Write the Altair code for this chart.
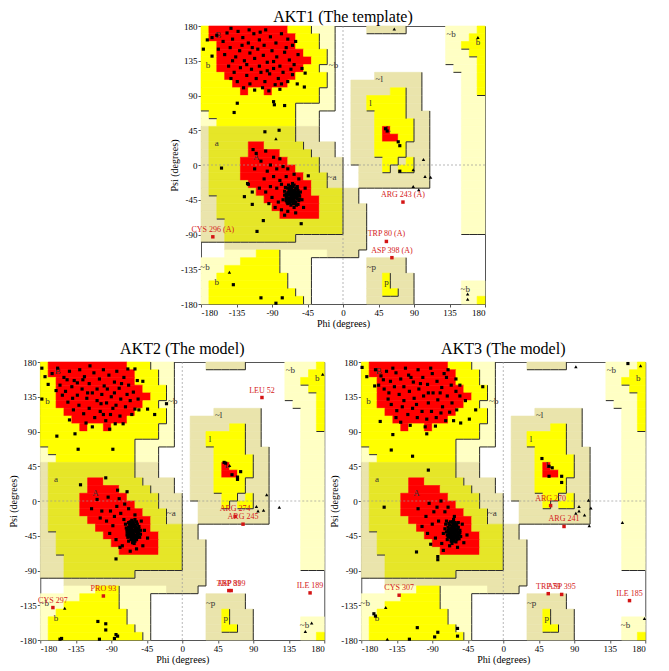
import altair as alt
import pandas as pd

# ---------------- Ramachandran region map (10-degree cells) ----------------
# each row: psi band from 180-10*r down to 170-10*r ; list of (start column, code)
# columns: phi from -180 (col 0) to 180 (col 36)
REGION_ROWS = [
    [(0, "Y"), (1, "R"), (11, "Y"), (14, "P"), (17, "."), (21, "T"), (26, "."), (31, "P"), (35, "Y")],
    [(0, "Y"), (1, "R"), (12, "Y"), (15, "P"), (17, "."), (31, "P"), (34, "Y")],
    [(0, "Y"), (2, "R"), (12, "Y"), (15, "P"), (17, "."), (31, "P"), (33, "Y")],
    [(0, "Y"), (2, "R"), (13, "Y"), (16, "P"), (17, "."), (31, "P"), (34, "Y")],
    [(0, "Y"), (2, "R"), (14, "Y"), (16, "P"), (17, "."), (31, "P"), (35, "Y")],
    [(0, "Y"), (2, "R"), (13, "Y"), (15, "P"), (17, "."), (32, "P"), (35, "Y")],
    [(0, "Y"), (3, "R"), (12, "Y"), (16, "P"), (17, "."), (22, "T"), (28, "."), (33, "P"), (35, "Y")],
    [(0, "Y"), (4, "R"), (11, "Y"), (16, "P"), (17, "."), (19, "T"), (28, "."), (33, "P"), (35, "Y")],
    [(0, "Y"), (5, "R"), (6, "Y"), (8, "R"), (9, "Y"), (15, "P"), (17, "."), (19, "T"), (24, "Y"), (26, "T"), (28, "."), (33, "P"), (35, "Y")],
    [(0, "Y"), (15, "P"), (17, "."), (19, "T"), (21, "Y"), (26, "T"), (28, "."), (33, "P")],
    [(0, "Y"), (12, "P"), (17, "."), (19, "T"), (21, "Y"), (26, "T"), (28, "."), (33, "P")],
    [(0, "P"), (1, "Y"), (12, "P"), (15, "."), (19, "T"), (22, "Y"), (26, "T"), (29, "."), (33, "P")],
    [(0, "P"), (2, "Y"), (12, "P"), (15, "."), (19, "T"), (22, "Y"), (27, "T"), (29, "."), (33, "P")],
    [(0, "T"), (1, "O"), (12, "T"), (15, "."), (19, "T"), (22, "Y"), (23, "R"), (24, "Y"), (27, "T"), (29, "."), (33, "P")],
    [(0, "T"), (1, "O"), (12, "T"), (15, "."), (19, "T"), (22, "Y"), (23, "R"), (25, "Y"), (27, "T"), (29, "."), (33, "P")],
    [(0, "T"), (1, "O"), (6, "R"), (8, "O"), (13, "T"), (17, "."), (19, "T"), (22, "Y"), (26, "T"), (29, "."), (33, "P")],
    [(0, "T"), (1, "O"), (6, "R"), (10, "O"), (14, "T"), (17, "."), (19, "T"), (22, "Y"), (26, "T"), (29, "."), (33, "P")],
    [(0, "T"), (1, "O"), (5, "R"), (11, "O"), (15, "T"), (18, "."), (19, "T"), (23, "Y"), (25, "T"), (26, "Y"), (27, "T"), (29, "."), (33, "P")],
    [(0, "T"), (1, "O"), (5, "R"), (12, "O"), (15, "T"), (18, "."), (20, "T"), (23, "Y"), (24, "T"), (25, "Y"), (27, "T"), (29, "."), (33, "P")],
    [(0, "T"), (1, "O"), (5, "R"), (13, "O"), (16, "T"), (18, "."), (20, "T"), (29, "."), (33, "P")],
    [(0, "T"), (1, "O"), (6, "R"), (14, "O"), (16, "T"), (18, "."), (20, "T"), (29, "."), (33, "P")],
    [(0, "T"), (1, "O"), (7, "R"), (14, "O"), (18, "T"), (20, "."), (33, "P")],
    [(0, "T"), (2, "O"), (8, "R"), (15, "O"), (18, "T"), (20, "."), (33, "P")],
    [(0, "T"), (2, "O"), (9, "R"), (15, "O"), (18, "T"), (21, "."), (33, "P")],
    [(0, "T"), (2, "O"), (10, "R"), (15, "O"), (18, "T"), (21, "."), (33, "P")],
    [(0, "T"), (3, "O"), (18, "T"), (21, "."), (33, "P")],
    [(0, "T"), (3, "O"), (18, "T"), (21, "."), (33, "P")],
    [(0, "T"), (3, "O"), (12, "T"), (21, ".")],
    [(0, "."), (3, "T"), (21, ".")],
    [(0, "."), (3, "P"), (7, "Y"), (10, "P"), (16, "T"), (20, ".")],
    [(0, "P"), (5, "Y"), (10, "P"), (14, "."), (21, "T"), (26, ".")],
    [(0, "P"), (3, "Y"), (10, "P"), (14, "."), (21, "T"), (26, ".")],
    [(0, "P"), (2, "Y"), (11, "P"), (14, "."), (21, "T"), (23, "Y"), (24, "T"), (27, ".")],
    [(0, "P"), (1, "Y"), (11, "P"), (14, "."), (21, "T"), (23, "Y"), (24, "T"), (27, "."), (33, "P")],
    [(0, "P"), (1, "Y"), (12, "P"), (14, "."), (21, "T"), (23, "Y"), (25, "T"), (27, "."), (33, "P")],
    [(0, "P"), (1, "Y"), (13, "P"), (14, "."), (21, "T"), (27, "."), (33, "P"), (35, "Y")],
]
REGION_CODES = ["R", "Y", "O", "P", "T"]
REGION_COLORS = ["#FF0000", "#FFFF00", "#E6E628", "#FFFFC4", "#EAE4AC"]
LEVEL = {".": 0, "P": 1, "T": 1, "Y": 2, "O": 2, "R": 3}

REGION_LABELS = ["B", "b", "A", "a", "~b", "~l", "l", "L", "~b", "b", "~a", "~p", "p", "~b", "~b", "b"]
REGION_LABEL_PHI = [-158, -171, -110, -160, -12, 46, 35, 57, 137, 171, -14, 36, 55, 155, -175, -160]
REGION_LABEL_PSI = [168, 130, 10, 29, 130, 111, 80, 46, 169, 159, -15, -132, -152, -161, -132, -151]

# ---------------- AKT1 (template) ----------------
AKT1_SQUARES = [
    (-160, 168), (-152, 160), (-147, 171), (-140, 163), (-133, 173), (-127, 165), (-120, 158), (-113, 170),
    (-106, 162), (-98, 175), (-92, 166), (-85, 158), (-78, 170), (-70, 163), (-64, 155), (-158, 150),
    (-150, 143), (-143, 152), (-136, 140), (-131, 148), (-125, 135), (-118, 145), (-112, 138), (-108, 150),
    (-101, 142), (-96, 133), (-90, 148), (-84, 140), (-80, 128), (-74, 146), (-68, 136), (-62, 130),
    (-57, 143), (-52, 125), (-145, 128), (-138, 120), (-130, 126), (-122, 116), (-116, 124), (-110, 112),
    (-104, 120), (-99, 108), (-93, 118), (-88, 125), (-82, 112), (-76, 120), (-70, 108), (-64, 117),
    (-58, 105), (-134, 108), (-126, 100), (-118, 105), (-112, 97), (-102, 100), (-94, 96), (-86, 104),
    (-80, 98), (-140, 135), (-128, 155), (-115, 152), (-100, 155), (-88, 134), (-72, 152), (-66, 124),
    (-106, 128), (-96, 122), (-122, 130), (-142, 112), (-78, 105), (-60, 160),
    (-177, 150), (-172, 162), (-166, 165), (-166, 141), (-142, 177), (-119, 175), (-105, 172),
    (-134, 80), (-138, 68), (-88, 82), (-87, 78), (-74, 77), (-49, 101), (-48, 119),
    (-99, 43), (-81, 45), (-114, 20),
    (-66, -40), (-62, -44), (-70, -36), (-58, -38), (-64, -33), (-68, -46), (-60, -30), (-72, -42),
    (-56, -46), (-63, -50), (-67, -28), (-59, -42), (-74, -34), (-61, -37), (-65, -47), (-69, -39),
    (-57, -33), (-71, -48), (-62, -26), (-55, -40), (-66, -52), (-73, -29), (-60, -48), (-64, -42),
    (-68, -32), (-58, -28), (-70, -44), (-63, -36), (-67, -35), (-61, -41), (-65, -38), (-59, -35),
    (-72, -38), (-62, -55), (-54, -35), (-76, -45), (-69, -26), (-57, -51), (-64, -24), (-66, -44),
    (-63, -39), (-66, -36), (-60, -41), (-68, -43), (-62, -47), (-58, -44), (-70, -30), (-64, -28),
    (-56, -37), (-72, -46), (-59, -52), (-67, -49), (-61, -33), (-65, -31), (-69, -35), (-57, -40),
    (-63, -43), (-71, -41), (-60, -37), (-66, -47), (-74, -39), (-62, -35), (-58, -31), (-68, -38),
    (-64, -45), (-55, -44), (-70, -50), (-61, -50), (-67, -32), (-65, -42),
    (-110, 15), (-98, 18), (-88, 10), (-104, 5), (-92, 0), (-80, 8), (-96, -8), (-84, -5), (-76, -2),
    (-112, -5), (-100, -18), (-88, -15), (-80, -20), (-72, -15), (-92, -28), (-84, -30), (-78, -25),
    (-98, -35), (-90, -42), (-82, -48), (-86, -55), (-78, -58), (-70, -60), (-60, -62), (-50, -55),
    (-52, -45), (-48, -30), (-56, -18), (-62, -12), (-70, -5), (-120, -25), (-115, -35), (-106, -30),
    (-94, -50), (-74, -65),
    (-154, -4), (-125, -41), (-115, -51), (-101, -72), (-109, -86), (-53, -76), (-44, -14), (-121, -24),
    (-139, -155), (-104, -172), (-85, -179), (-77, -172),
    (54, 47), (56, 44), (70, 30), (72, 25), (72, -8),
]
AKT1_TRIANGLES = [(65, 176), (171, 165), (102, 7), (89, -6), (104, -15), (111, -16), (89, -28), (96, -32),
                  (158, -167), (158, -174), (-144, -139), (-85, 34)]
AKT1_OUT_NAME = ["ARG 243 (A)", "TRP 80 (A)", "ASP 398 (A)", "CYS 296 (A)"]
AKT1_OUT_PHI = [76, 55, 62, -165]
AKT1_OUT_PSI = [-48, -99, -120, -93]

# ---------------- AKT2 (model) ----------------
AKT2_SQUARES = [
    (-165, 165), (-158, 172), (-150, 160), (-143, 168), (-137, 156), (-130, 170), (-124, 161), (-118, 152),
    (-112, 166), (-105, 158), (-99, 149), (-93, 163), (-86, 154), (-80, 146), (-74, 160), (-68, 150),
    (-62, 141), (-57, 156), (-155, 150), (-148, 142), (-140, 148), (-133, 137), (-127, 145), (-121, 133),
    (-114, 140), (-108, 130), (-102, 138), (-96, 127), (-90, 135), (-84, 124), (-78, 132), (-72, 122),
    (-66, 130), (-60, 119), (-145, 128), (-138, 118), (-131, 124), (-125, 113), (-118, 120), (-111, 108),
    (-104, 116), (-97, 104), (-91, 112), (-85, 100), (-79, 110), (-122, 101), (-114, 96), (-103, 126),
    (-95, 145), (-88, 120), (-133, 153), (-146, 157), (-117, 175), (-100, 170), (-83, 168), (-69, 171),
    (-152, 137), (-70, 138), (-64, 112), (-56, 132), (-108, 145), (-126, 157), (-139, 133), (-92, 93),
    (-75, 100), (-160, 143), (-100, 112), (-120, 140), (-86, 140), (-77, 152),
    (-178, 172), (-174, 161), (-178, 132), (-170, 151), (-60, 171), (-50, 155), (-55, 118), (-44, 119),
    (-35, 112), (-20, 126), (-159, 84), (-136, 87), (-132, 67), (-88, 67), (-143, 105),
    (-129, 21), (-97, 30),
    (-91, -13), (-83, -7), (-73, -4), (-68, -10), (-86, -20), (-78, -16), (-96, -26), (-88, -32),
    (-108, 2), (-94, 5), (-80, 3), (-115, -10), (-104, -22), (-74, -24), (-60, -18), (-52, -26),
    (-48, -38), (-44, -48), (-50, -58), (-58, -62), (-66, -65), (-76, -58), (-84, -50), (-92, -42),
    (-70, 12), (-82, 14),
    (-64, -40), (-60, -36), (-67, -44), (-57, -42), (-62, -30), (-66, -34), (-70, -40), (-59, -48),
    (-55, -33), (-63, -46), (-68, -28), (-61, -39), (-58, -27), (-65, -50), (-71, -35), (-56, -45),
    (-62, -43), (-60, -52), (-53, -38), (-67, -38), (-64, -25), (-69, -47), (-58, -35), (-63, -33),
    (-66, -42), (-61, -46), (-72, -30), (-54, -47), (-60, -24), (-65, -37), (-59, -40), (-68, -52),
    (-57, -30), (-62, -49), (-70, -44), (-55, -42), (-64, -31), (-61, -55), (-66, -27), (-58, -45),
    (-62, -38), (-59, -44), (-64, -36), (-57, -39), (-66, -46), (-60, -31), (-63, -41), (-68, -34),
    (-55, -36), (-61, -48), (-65, -29), (-58, -50), (-67, -41), (-62, -27), (-70, -37), (-56, -40),
    (-64, -49), (-60, -45), (-66, -32), (-59, -34), (-63, -54), (-53, -43), (-69, -42), (-61, -33),
    (-57, -47), (-65, -44), (-62, -52), (-67, -30), (-58, -38), (-64, -43),
    (-102, -13), (-84, -75), (-79, -60),
    (-107, -156), (-97, -159), (-97, -167), (-105, -179), (-86, -178), (-84, -173), (-82, -175),
    (-155, -179), (-153, -178),
    (53, 50), (55, 49), (63, 34), (70, 31), (70, 28), (74, 38),
]
AKT2_TRIANGLES = [(-149, -139), (178, 164), (60, 46), (107, 8), (94, -7), (96, -13), (103, -12),
                  (123, -8), (164, -158), (156, -169)]
AKT2_OUT_NAME = ["LEU 52", "ARG 274", "ARG 245", "TRP 81", "ASP 399", "ILE 189", "PRO 93", "CYS 297"]
AKT2_OUT_PHI = [101, 67, 77, 59, 62, 162, -100, -164]
AKT2_OUT_PSI = [134, -20, -30, -116, -116, -119, -123, -138]

# ---------------- AKT3 (model) ----------------
AKT3_SQUARES = [
    (-162, 170), (-155, 162), (-148, 168), (-143, 155), (-136, 166), (-130, 158), (-126, 148), (-120, 163),
    (-114, 154), (-108, 170), (-102, 160), (-96, 151), (-90, 165), (-84, 155), (-78, 147), (-72, 160),
    (-66, 150), (-60, 142), (-55, 136), (-158, 150), (-151, 145), (-145, 140), (-138, 148), (-132, 138),
    (-126, 130), (-119, 142), (-113, 133), (-107, 145), (-101, 136), (-95, 127), (-89, 140), (-83, 131),
    (-77, 122), (-71, 136), (-65, 127), (-59, 118), (-48, 130), (-142, 125), (-135, 117), (-128, 122),
    (-121, 112), (-115, 120), (-109, 108), (-103, 116), (-97, 106), (-91, 116), (-85, 108), (-79, 114),
    (-73, 104), (-130, 102), (-118, 98), (-110, 125), (-99, 96), (-86, 97), (-152, 157), (-140, 172),
    (-124, 172), (-92, 172), (-70, 170), (-60, 158), (-146, 132), (-105, 152), (-117, 160), (-80, 140),
    (-95, 140), (-68, 115), (-63, 104), (-136, 108), (-55, 150), (-75, 165),
    (-179, 173), (-173, 161), (-163, 149), (-156, 103), (-140, 86), (-142, 66), (-115, 58), (-95, 40),
    (-97, 87), (-54, 101), (-43, 106), (-35, 118), (-26, 148),
    (-94, -3), (-84, -8), (-79, 0), (-88, -14), (-98, -20), (-74, -14), (-90, -30), (-82, -26),
    (-103, -33), (-96, -42), (-86, -48), (-78, -55), (-68, -58), (-58, -60), (-50, -54), (-46, -44),
    (-52, -30), (-62, -20), (-70, -8), (-108, -10), (-76, -64), (-92, -56),
    (-66, -38), (-62, -42), (-70, -34), (-58, -36), (-64, -30), (-68, -46), (-60, -48), (-72, -40),
    (-56, -44), (-63, -52), (-67, -27), (-59, -32), (-74, -36), (-61, -39), (-65, -45), (-69, -42),
    (-57, -28), (-71, -50), (-63, -24), (-55, -38), (-66, -50), (-73, -30), (-60, -44), (-64, -35),
    (-68, -31), (-58, -40), (-70, -46), (-62, -33), (-67, -41), (-61, -28), (-65, -55), (-59, -50),
    (-72, -26), (-54, -46), (-76, -42), (-63, -46),
    (-64, -40), (-61, -36), (-66, -43), (-59, -38), (-68, -36), (-62, -45), (-65, -33), (-57, -42),
    (-70, -38), (-63, -49), (-60, -30), (-67, -47), (-58, -46), (-64, -27), (-71, -44), (-55, -41),
    (-62, -38), (-66, -35), (-60, -53), (-69, -29), (-63, -41), (-57, -34), (-65, -48), (-61, -43),
    (-68, -40), (-59, -44), (-62, -31), (-66, -52), (-56, -49), (-64, -37),
    (-151, -8), (-110, -66), (-83, -72), (-83, -76),
    (-164, -146), (-162, -149), (-119, -179), (-109, -164), (-87, -176), (-83, -170), (-58, -165), (-58, -175),
    (49, 55), (58, 45), (62, 43), (58, 32), (74, 32), (74, 24), (158, 178),
]
AKT3_TRIANGLES = [(-149, -138), (-147, -179), (92, 174), (174, 175), (96, -7), (92, -16), (96, -13),
                  (103, -18), (108, 1), (111, -9), (109, -32), (151, -28), (179, -152)]
AKT3_OUT_NAME = ["CYS 307", "ARG 270", "ARG 241", "TRP 79", "ASP 395", "ILE 185"]
AKT3_OUT_PHI = [-132, 60, 77, 57, 74, 160]
AKT3_OUT_PSI = [-122, -6, -33, -120, -121, -129]

TICKS = [-180, -135, -90, -45, 0, 45, 90, 135, 180]
FONT = "Liberation Serif"
W, H = 284, 278


def expand(row):
    cells = ["."] * 36
    for i, (s, code) in enumerate(row):
        e = row[i + 1][0] if i + 1 < len(row) else 36
        for c in range(s, e):
            cells[c] = code
    return cells


GRID = [expand(r) for r in REGION_ROWS]

rect_records = []
for r, cells in enumerate(GRID):
    c = 0
    while c < 36:
        code = cells[c]
        s = c
        while c < 36 and cells[c] == code:
            c += 1
        if code != ".":
            rect_records.append({"phi0": -180 + 10 * s, "phi1": -180 + 10 * c,
                                 "psi0": 170 - 10 * r, "psi1": 180 - 10 * r, "code": code})
rect_df = pd.DataFrame(rect_records)


def drops(a, b):
    la, lb = LEVEL[a], LEVEL[b]
    if la == 0 or lb >= la:
        return False
    return not (la == 3 and lb == 2)


edge_records = []
for r in range(36):
    for c in range(36):
        here = GRID[r][c]
        if c < 35 and drops(here, GRID[r][c + 1]):
            xv = -170 + 10 * c
            edge_records.append({"ea": xv, "eb": xv, "ec": 180 - 10 * r, "ed": 170 - 10 * r})
        if r < 35 and drops(here, GRID[r + 1][c]):
            yv = 170 - 10 * r
            edge_records.append({"ea": -180 + 10 * c, "eb": -170 + 10 * c, "ec": yv, "ed": yv})
edge_df = pd.DataFrame(edge_records)

label_df = pd.DataFrame({"phi": REGION_LABEL_PHI, "psi": REGION_LABEL_PSI, "lab": REGION_LABELS})


def X(field):
    return alt.X(field, type="quantitative",
                 scale=alt.Scale(domain=[-180, 180], nice=False, zero=False),
                 axis=alt.Axis(values=TICKS, title="Phi (degrees)", labelExpr="'' + datum.value"))


def Y(field):
    return alt.Y(field, type="quantitative",
                 scale=alt.Scale(domain=[-180, 180], nice=False, zero=False),
                 axis=alt.Axis(values=TICKS, title="Psi (degrees)", labelExpr="'' + datum.value"))


def panel(title, squares, triangles, out_name, out_phi, out_psi, title_offset):
    sq_df = pd.DataFrame(squares, columns=["phi", "psi"])
    tr_df = pd.DataFrame(triangles, columns=["phi", "psi"])
    out_df = pd.DataFrame({"phi": out_phi, "psi": out_psi, "name": out_name})
    color_scale = alt.Scale(domain=REGION_CODES, range=REGION_COLORS)

    rects = alt.Chart(rect_df).mark_rect(strokeWidth=0.6).encode(
        x=X("phi0"), x2="phi1", y=Y("psi0"), y2="psi1",
        color=alt.Color("code:N", scale=color_scale, legend=None),
        stroke=alt.Stroke("code:N", scale=color_scale, legend=None),
    )
    edges = alt.Chart(edge_df).mark_rule(color="#2a2a2a", strokeWidth=1).encode(
        x=X("ea"), x2="eb", y=Y("ec"), y2="ed")
    zero_df = pd.DataFrame({"v": [0]})
    vline = alt.Chart(zero_df).mark_rule(color="#9a9a9a", strokeWidth=0.7, strokeDash=[2, 2]).encode(x=X("v"))
    hline = alt.Chart(zero_df).mark_rule(color="#9a9a9a", strokeWidth=0.7, strokeDash=[2, 2]).encode(y=Y("v"))
    labels = alt.Chart(label_df).mark_text(font=FONT, fontSize=9, color="#333333").encode(
        x=X("phi"), y=Y("psi"), text="lab:N")
    sq = alt.Chart(sq_df).mark_point(shape="square", filled=True, size=10, color="black", opacity=1).encode(
        x=X("phi"), y=Y("psi"))
    tr = alt.Chart(tr_df).mark_point(shape="triangle-up", filled=True, size=12, color="black", opacity=1).encode(
        x=X("phi"), y=Y("psi"))
    out = alt.Chart(out_df).mark_point(shape="square", filled=True, size=12, color="#D41414", opacity=1).encode(
        x=X("phi"), y=Y("psi"))
    out_txt = alt.Chart(out_df).mark_text(font=FONT, fontSize=8, color="#D42020", baseline="bottom", dy=-3).encode(
        x=X("phi"), y=Y("psi"), text="name:N")
    return alt.layer(rects, edges, vline, hline, labels, sq, tr, out, out_txt).properties(
        width=W, height=H, title=alt.TitleParams(title, frame="group", offset=title_offset))


top = panel("AKT1 (The template)", AKT1_SQUARES, AKT1_TRIANGLES, AKT1_OUT_NAME, AKT1_OUT_PHI, AKT1_OUT_PSI, -3)
left = panel("AKT2 (The model)", AKT2_SQUARES, AKT2_TRIANGLES, AKT2_OUT_NAME, AKT2_OUT_PHI, AKT2_OUT_PSI, 1)
right = panel("AKT3 (The model)", AKT3_SQUARES, AKT3_TRIANGLES, AKT3_OUT_NAME, AKT3_OUT_PHI, AKT3_OUT_PSI, 1)

chart = alt.vconcat(top, alt.hconcat(left, right, spacing=4), spacing=11, center=True).properties(
    padding={"left": 0, "top": 0, "right": 0, "bottom": 0}
).configure_view(stroke="#555555", strokeWidth=1).configure_axis(
    domain=False, grid=False, ticks=True, tickSize=3, tickColor="#555555",
    labelFont=FONT, labelFontSize=9, labelColor="black", labelPadding=1,
    titleFont=FONT, titleFontSize=10, titleFontWeight="normal", titleColor="black", titlePadding=1,
).configure_title(font=FONT, fontSize=16, fontWeight="normal", color="black")

chart.save("out.html", embed_options={"renderer": "svg", "actions": False})
